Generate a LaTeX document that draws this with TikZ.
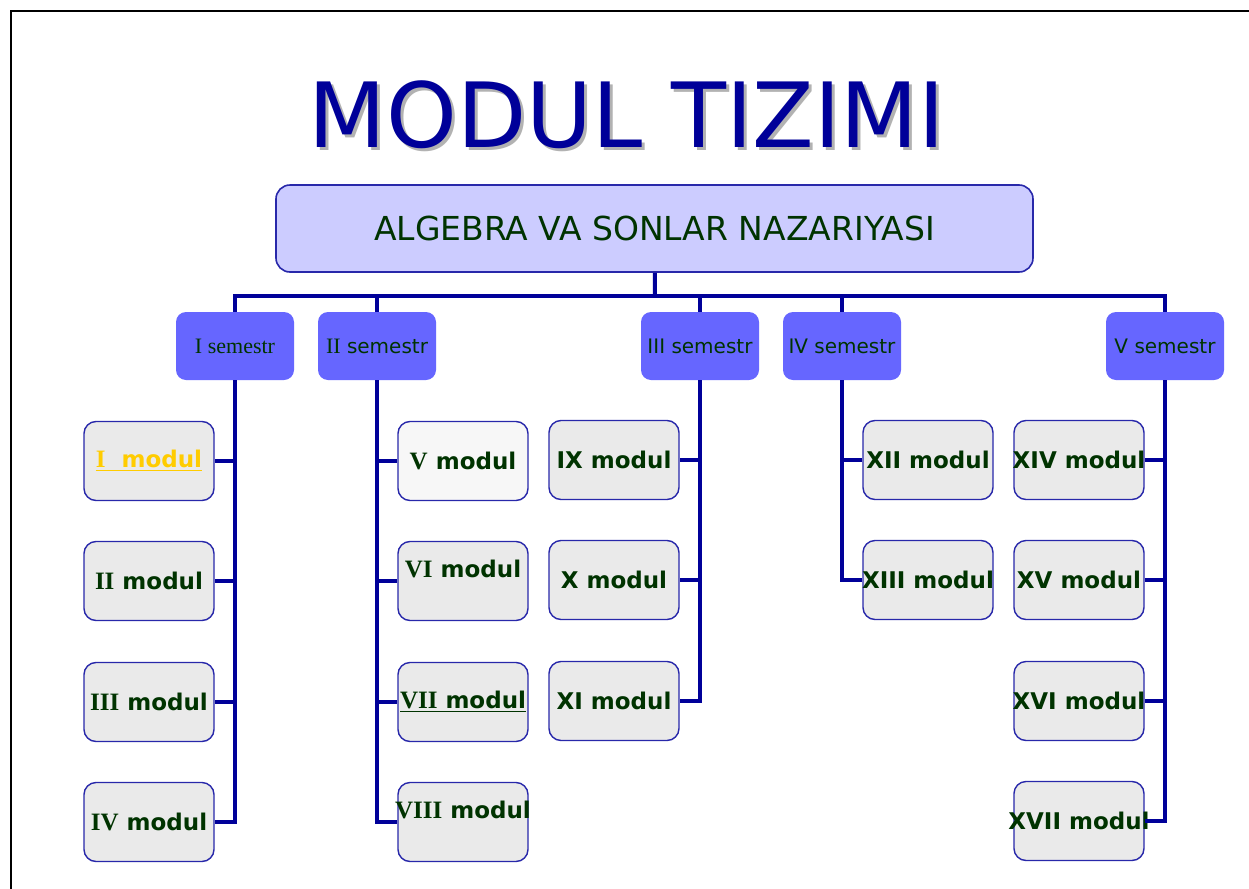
\documentclass[tikz,border=0pt]{standalone}
\usepackage{fontspec}
\setmainfont{Liberation Serif}
\setsansfont{DejaVu Sans}
\usepackage{tikz}
\definecolor{darkblue}{RGB}{0,0,153}
\definecolor{txtgreen}{RGB}{0,51,0}
\definecolor{boxblue}{RGB}{40,40,170}
\definecolor{semblue}{RGB}{102,102,255}
\definecolor{topfill}{RGB}{204,204,255}
\definecolor{modfill}{RGB}{234,234,234}
\definecolor{modwhite}{RGB}{247,247,247}
\definecolor{gold}{RGB}{255,204,0}
\newcommand*{\rn}[1]{{\rmfamily\fontsize{12.5}{14}\selectfont #1}}
\newcommand*{\up}[1]{\raisebox{12pt}{#1}}

\begin{document}
\begin{tikzpicture}[x=0.5pt,y=-0.5pt,
block_title/.style ={rectangle, draw=none, text=darkblue, font=\sffamily\fontsize{45}{54}\selectfont},
block_top/.style ={rectangle, rounded corners=7pt, draw=boxblue, thick, fill=topfill, text=txtgreen, minimum width=378.5pt, minimum height=43.5pt, font=\sffamily\fontsize{16.5}{20}\selectfont},
block_sem/.style ={rectangle, rounded corners=5pt, draw=none, fill=semblue, text=txtgreen, minimum width=59pt, minimum height=34pt, inner sep=0pt, font=\sffamily\fontsize{10}{12}\selectfont},
block_mod/.style ={rectangle, rounded corners=6pt, draw=boxblue, line width=0.7pt, fill=modfill, text=txtgreen, minimum width=65pt, minimum height=39.5pt, inner sep=0pt, font=\sffamily\bfseries\fontsize{11.5}{13}\selectfont,
  execute at begin node={\hbox to 0pt\bgroup\hss}, execute at end node={\hss\egroup}},
line/.style ={draw=darkblue, line width=2pt}]
  % page and frame
    \fill[white] (0,0) rectangle (1249,889);
    \useasboundingbox (0,0) rectangle (1249,889);
    \draw[line width=1.2pt] (11,889) -- (11,11) -- (1249,11);
  % title with its shadow
    \node [block_title, text=black!30] (title_shadow) at (630,118) {MODUL TIZIMI};
    \node [block_title] (title) at (627,115) {MODUL TIZIMI};
  % subject
    \node [block_top] (subject) at (654.5,228.5) {ALGEBRA VA SONLAR NAZARIYASI};
  % semesters
    \node [block_sem] (sem1) at (235,346) {\rmfamily\fontsize{11}{13}\selectfont I semestr};
    \node [block_sem] (sem2) at (377,346) {{\rmfamily\fontsize{11}{13}\selectfont II} semestr};
    \node [block_sem] (sem3) at (700,346) {III semestr};
    \node [block_sem] (sem4) at (842,346) {IV semestr};
    \node [block_sem] (sem5) at (1165,346) {V semestr};
  % I semestr - modules
    \node [block_mod, text=gold] (mod1) at (149,461) {\underline{\rn{\textbf{I}}\ \ modul}};
    \node [block_mod] (mod2) at (149,581) {\rn{\textbf{II}} modul};
    \node [block_mod] (mod3) at (149,702) {\rn{\textbf{III}} modul};
    \node [block_mod] (mod4) at (149,822) {\rn{\textbf{IV}} modul};
  % II semestr - modules
    \node [block_mod, fill=modwhite] (mod5) at (463,461) {\rn{\textbf{V}} modul};
    \node [block_mod] (mod6) at (463,581) {\up{\rn{\textbf{VI}} modul}};
    \node [block_mod] (mod7) at (463,702) {\underline{\rn{\textbf{VII}} modul}};
    \node [block_mod] (mod8) at (463,822) {\up{\rn{\textbf{VIII}} modul}};
  % III semestr - modules
    \node [block_mod] (mod9) at (614,460) {IX modul};
    \node [block_mod] (mod10) at (614,580) {X modul};
    \node [block_mod] (mod11) at (614,701) {XI modul};
  % IV semestr - modules
    \node [block_mod] (mod12) at (928,460) {XII modul};
    \node [block_mod] (mod13) at (928,580) {XIII modul};
  % V semestr - modules
    \node [block_mod] (mod14) at (1079,460) {XIV modul};
    \node [block_mod] (mod15) at (1079,580) {XV modul};
    \node [block_mod] (mod16) at (1079,701) {XVI modul};
    \node [block_mod] (mod17) at (1079,821) {XVII modul};
  % connecting nodes with paths
    \coordinate (bar) at (655,296);
    \begin{scope}[every path/.style=line]
      \path (subject) -- (bar);
      \path (bar) -| (sem1);
      \path (bar) -| (sem2);
      \path (bar) -| (sem3);
      \path (bar) -| (sem4);
      \path (bar) -| (sem5);
      \path (sem1) |- (mod1);
      \path (sem1) |- (mod2);
      \path (sem1) |- (mod3);
      \path (sem1) |- (mod4);
      \path (sem2) |- (mod5);
      \path (sem2) |- (mod6);
      \path (sem2) |- (mod7);
      \path (sem2) |- (mod8);
      \path (sem3) |- (mod9);
      \path (sem3) |- (mod10);
      \path (sem3) |- (mod11);
      \path (sem4) |- (mod12);
      \path (sem4) |- (mod13);
      \path (sem5) |- (mod14);
      \path (sem5) |- (mod15);
      \path (sem5) |- (mod16);
      \path (sem5) |- (mod17);
    \end{scope}
  \end{tikzpicture}
\end{document}
